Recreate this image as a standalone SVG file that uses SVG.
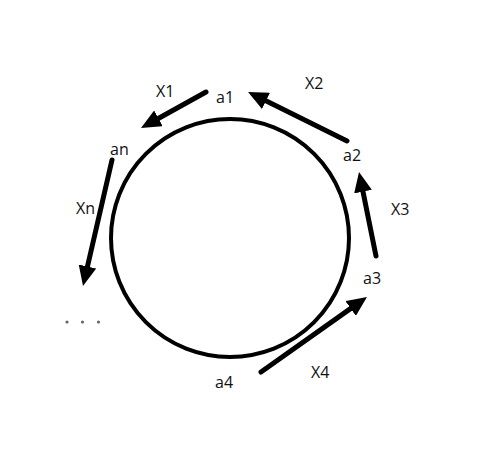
<svg xmlns="http://www.w3.org/2000/svg" width="479" height="474" viewBox="0 0 479 474">
<style>
text{font-family:"Open Sans","Noto Sans",sans-serif;font-size:16px;fill:#111}
.c{stroke:#000;stroke-width:5;fill:none;stroke-linecap:round;marker-end:url(#ah)}
</style>
<defs>
<marker id="ah" viewBox="0 0 20 18" refX="8" refY="9" markerWidth="20" markerHeight="18" markerUnits="userSpaceOnUse" orient="auto">
<path d="M0,0 L20,9 L0,18 z" fill="#000"/>
</marker>
</defs>
<rect width="479" height="474" fill="#fff"/>
<g id="ring"><circle cx="230" cy="238" r="119" fill="none" stroke="#000" stroke-width="4"/></g>
<g id="connectors">
<line class="c" x1="206" y1="92" x2="151.5" y2="122.2"/>
<line class="c" x1="347" y1="141" x2="258.8" y2="97.3"/>
<line class="c" x1="376" y1="256" x2="361.4" y2="183.8"/>
<line class="c" x1="261" y1="372" x2="357.2" y2="303.9"/>
<line class="c" x1="112" y1="160" x2="85.7" y2="274.3"/>
</g>
<g id="a1"><text x="216" y="103">a1</text></g>
<g id="a2"><text x="343" y="161">a2</text></g>
<g id="a3"><text x="363" y="284">a3</text></g>
<g id="a4"><text x="215" y="388">a4</text></g>
<g id="an"><text x="110" y="155">an</text></g>
<g id="labels">
<text x="156" y="97">X1</text>
<text x="305" y="89">X2</text>
<text x="391" y="215">X3</text>
<text x="311" y="378">X4</text>
<text x="76" y="214">Xn</text>
</g>
<g id="dots" fill="#666">
<circle cx="67" cy="322" r="1.6"/>
<circle cx="82.5" cy="322" r="1.6"/>
<circle cx="98.5" cy="322" r="1.6"/>
</g>
</svg>
